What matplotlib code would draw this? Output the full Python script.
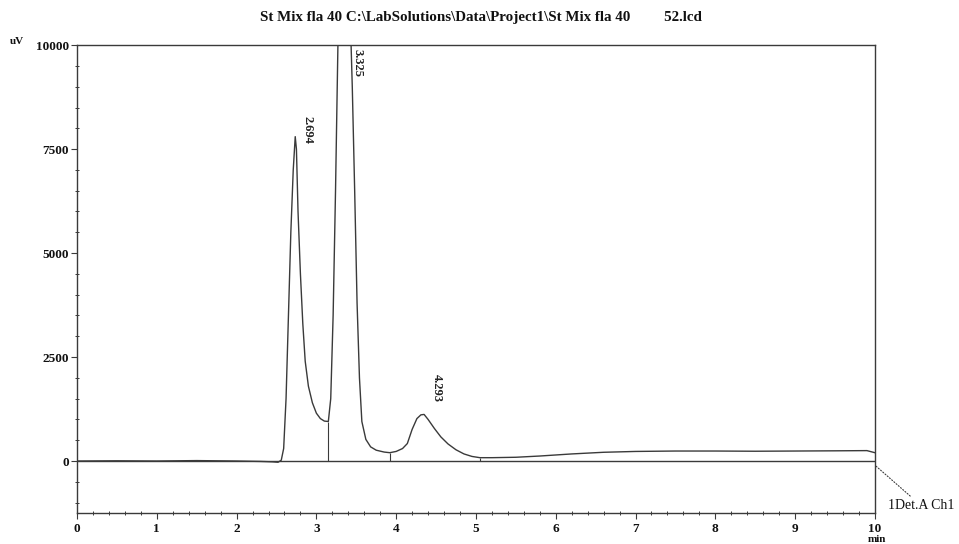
import matplotlib
matplotlib.use('Agg')
import matplotlib.pyplot as plt
from matplotlib.ticker import MultipleLocator

plt.rcParams['font.family'] = ['Liberation Serif', 'DejaVu Serif']

# chromatogram trace (min, uV)
time = [0.0, 0.5, 1.0, 1.5, 2.0, 2.3, 2.45, 2.52, 2.56, 2.59, 2.62, 2.65,
        2.68, 2.71, 2.735, 2.75, 2.77, 2.80, 2.83, 2.86, 2.90, 2.95, 3.00,
        3.05, 3.10, 3.15, 3.18, 3.21, 3.24, 3.27, 3.30, 3.34, 3.38, 3.42,
        3.45, 3.48, 3.51, 3.54, 3.57, 3.62, 3.68, 3.75, 3.85, 3.92, 4.00,
        4.08, 4.14, 4.20, 4.26, 4.31, 4.35, 4.40, 4.48, 4.56, 4.65, 4.75,
        4.85, 4.95, 5.05, 5.2, 5.5, 5.8, 6.2, 6.6, 7.0, 7.5, 8.0, 8.5, 9.0,
        9.5, 9.9, 10.0]
signal = [0, 5, 0, 10, 0, -10, -20, -30, 20, 300, 1500, 3500,
          5500, 7000, 7800, 7500, 6000, 4500, 3300, 2400, 1800, 1400, 1150,
          1020, 960, 950, 1500, 3500, 6500, 10000, 13500, 15000, 13500, 11000,
          9000, 6500, 3800, 2000, 950, 520, 340, 260, 215, 200, 230,
          300, 420, 760, 1020, 1110, 1120, 1000, 780, 580, 410, 270,
          170, 110, 80, 80, 90, 120, 170, 210, 230, 240, 240, 235, 240,
          245, 250, 200]

peak_times = [2.735, 3.36, 4.35]
peak_labels = ['2.694', '3.325', '4.293']
peak_label_y = [8300, 9900, 2100]

# integration marks: (time, height of drop line)
drop_times = [3.15, 3.92, 5.05]
drop_heights = [950, 200, 80]

fig = plt.figure(figsize=(9.59, 5.44), dpi=100)
ax = fig.add_axes([0.0803, 0.057, 0.832, 0.860])

line_col = '#3a3a3a'
ax.plot(time, signal, color=line_col, lw=1.0)
ax.axhline(0, color=line_col, lw=1.0)
ax.vlines(drop_times, 0, drop_heights, color=line_col, lw=0.8)

for t, lab, y in zip(peak_times, peak_labels, peak_label_y):
    ax.text(t + 0.16, y, lab, rotation=-90, ha='center', va='top',
            fontsize=9, color='#222222', fontweight='bold')

ax.set_xlim(0, 10)
ax.set_ylim(-1250, 10000)
ax.set_xticks(range(0, 11))
ax.set_yticks([0, 2500, 5000, 7500, 10000])
ax.xaxis.set_minor_locator(MultipleLocator(0.2))
ax.yaxis.set_minor_locator(MultipleLocator(500))
ax.tick_params(which='major', direction='out', length=4, width=0.8,
               labelsize=9.5, colors=line_col, labelcolor='#111111')
ax.tick_params(which='minor', direction='inout', length=3, width=0.7,
               colors=line_col)
ax.tick_params(axis='y', pad=2)
for lab in ax.get_xticklabels() + ax.get_yticklabels():
    lab.set_fontweight('bold')
for s in ax.spines.values():
    s.set_color(line_col)
    s.set_linewidth(1.0)

fig.text(0.01, 0.92, 'uV', fontsize=8, color='#111111', fontweight='bold')
fig.text(0.905, 0.003, 'min', fontsize=8, color='#111111', fontweight='bold')
fig.text(0.502, 0.962, 'St Mix fla 40 C:\\LabSolutions\\Data\\Project1\\St Mix fla 40         52.lcd',
         ha='center', fontsize=10.8, color='#111111', fontweight='bold')

# detector channel tag at the right end
ax.annotate('1Det.A Ch1', xy=(10.0, -100), xytext=(10.16, -1150),
            fontsize=10, color='#111111', annotation_clip=False,
            arrowprops=dict(arrowstyle='-', linestyle=':', color=line_col, lw=0.8,
                            shrinkA=0, shrinkB=0))

fig.savefig('out.png', dpi=100)
